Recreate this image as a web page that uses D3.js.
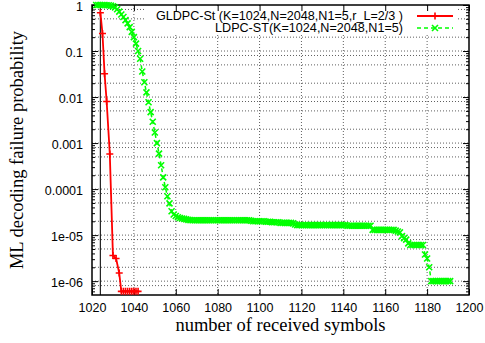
<!DOCTYPE html>
<html lang="en">
<head>
<meta charset="utf-8">
<title>ML decoding failure probability</title>
<script src="https://cdn.jsdelivr.net/npm/d3@7"></script>
<style>
  body { margin: 0; background: #fff; }
  .tick text { font-family: "Liberation Sans", Arial, sans-serif; }
</style>
</head>
<body>
<script>

// x axis ticks
var xTicks = [1020, 1040, 1060, 1080, 1100, 1120, 1140, 1160, 1180, 1200];
// y axis ticks (log)
var yTicks = [1, 0.1, 0.01, 0.001, 0.0001, 1e-5, 1e-6];
var yTickLabels = ["1", "0.1", "0.01", "0.001", "0.0001", "1e-05", "1e-06"];

var seriesNames = ["GLDPC-St (K=1024,N=2048,N1=5,r_L=2/3 )", "LDPC-ST(K=1024,N=2048,N1=5)"];

// GLDPC-St
var redX = [1024, 1025, 1026, 1027, 1028.5, 1030, 1031.5, 1033, 1034, 1035, 1036, 1037, 1038, 1039, 1040, 1041, 1042];
var redY = [0.68, 0.24, 0.032, 0.008, 5.8e-4, 3.6e-6, 3.1e-6, 1.5e-6, 6e-7, 6e-7, 6e-7, 6e-7, 6e-7, 6e-7, 6e-7, 6e-7, 6e-7];

// LDPC-ST, one value per received symbol count starting at greenStart (10 per row)
var greenStart = 1022;
var greenY = [
  1.0, 1.0, 1.0, 1.0, 1.0, 0.99, 0.99, 0.97, 0.94, 0.89,                             // 1022
  0.81, 0.72, 0.62, 0.55, 0.47, 0.40, 0.33, 0.26, 0.20, 0.145,                       // 1032
  0.10, 0.068, 0.036, 0.021, 0.0126, 0.0077, 0.0047, 0.0029, 0.0017, 0.0010,         // 1042
  5.9e-4, 3.3e-4, 1.8e-4, 1.1e-4, 7.0e-5, 4.9e-5, 3.3e-5, 2.8e-5, 2.6e-5, 2.45e-5,   // 1052
  2.35e-5, 2.3e-5, 2.25e-5, 2.2e-5, 2.15e-5, 2.12e-5, 2.1e-5, 2.1e-5, 2.1e-5, 2.1e-5, // 1062
  2.1e-5, 2.1e-5, 2.1e-5, 2.1e-5, 2.1e-5, 2.1e-5, 2.1e-5, 2.1e-5, 2.1e-5, 2.1e-5,   // 1072
  2.1e-5, 2.1e-5, 2.1e-5, 2.1e-5, 2.1e-5, 2.1e-5, 2.1e-5, 2.1e-5, 2.1e-5, 2.1e-5,   // 1082
  2.1e-5, 2.1e-5, 2.1e-5, 2.1e-5, 2.05e-5, 2.0e-5, 2.0e-5, 2.0e-5, 2.0e-5, 2.0e-5,  // 1092
  2.0e-5, 1.95e-5, 1.95e-5, 1.95e-5, 1.9e-5, 1.9e-5, 1.9e-5, 1.9e-5, 1.85e-5, 1.85e-5, // 1102
  1.85e-5, 1.85e-5, 1.85e-5, 1.85e-5, 1.8e-5, 1.7e-5, 1.65e-5, 1.65e-5, 1.65e-5, 1.65e-5, // 1112
  1.65e-5, 1.65e-5, 1.65e-5, 1.65e-5, 1.65e-5, 1.65e-5, 1.65e-5, 1.65e-5, 1.65e-5, 1.65e-5, // 1122
  1.65e-5, 1.65e-5, 1.65e-5, 1.65e-5, 1.65e-5, 1.65e-5, 1.65e-5, 1.65e-5, 1.65e-5, 1.65e-5, // 1132
  1.6e-5, 1.6e-5, 1.6e-5, 1.6e-5, 1.6e-5, 1.6e-5, 1.6e-5, 1.6e-5, 1.6e-5, 1.6e-5,   // 1142
  1.6e-5, 1.6e-5, 1.3e-5, 1.3e-5, 1.3e-5, 1.3e-5, 1.3e-5, 1.3e-5, 1.3e-5, 1.3e-5,   // 1152
  1.3e-5, 1.3e-5, 1.3e-5, 1.25e-5, 1.2e-5, 1.15e-5, 9.5e-6, 8.6e-6, 8.0e-6, 6.6e-6, // 1162
  6.1e-6, 6.1e-6, 6.1e-6, 6.1e-6, 6.1e-6, 6.1e-6, 6.1e-6, 3.8e-6, 3.1e-6, 2.0e-6,   // 1172
  1.0e-6, 1.0e-6, 1.0e-6, 1.0e-6, 1.0e-6, 1.0e-6, 1.0e-6, 1.0e-6, 1.0e-6, 1.0e-6    // 1182
];

var kLine = 1024;

var width = 485, height = 343;
var pLeft = 92, pRight = 469, pTop = 5, pBottom = 295;

var svg = d3.select("body").append("svg")
    .attr("width", width)
    .attr("height", height);

var x = d3.scaleLinear().domain([1020, 1200]).range([pLeft, pRight]);
var y = d3.scaleLog().domain([5e-7, 1]).range([pBottom, pTop]);

// minor log ticks
var minorY = [];
for (var e = -7; e <= 0; e++) {
  for (var m = 2; m <= 9; m++) {
    var v = m * Math.pow(10, e);
    if (v > 5e-7 && v < 1) minorY.push(v);
  }
}
var gridY = yTicks.concat(minorY.filter(function(v) {
  var m = Math.round(v / Math.pow(10, Math.floor(Math.log10(v) + 1e-9)));
  return m == 2 || m == 5 || m == 8;
}));

// grid
var grid = svg.append("g")
    .attr("stroke", "#222")
    .attr("stroke-width", 0.9)
    .attr("stroke-dasharray", "1,2")
    .attr("opacity", 0.8);

grid.selectAll(".gx").data(xTicks.slice(1, -1)).enter()
  .append("line")
    .attr("x1", function(d) { return x(d); })
    .attr("x2", function(d) { return x(d); })
    .attr("y1", pTop)
    .attr("y2", pBottom);

grid.selectAll(".gy").data(gridY.filter(function(d) { return d < 1; })).enter()
  .append("line")
    .attr("x1", pLeft)
    .attr("x2", pRight)
    .attr("y1", function(d) { return y(d); })
    .attr("y2", function(d) { return y(d); });

// legend background hides the grid
svg.append("rect")
    .attr("x", 145).attr("y", pTop + 1)
    .attr("width", 313).attr("height", 27)
    .attr("fill", "#fff");

// vertical line at K
svg.append("line")
    .attr("x1", x(kLine)).attr("x2", x(kLine))
    .attr("y1", pTop).attr("y2", pBottom)
    .attr("stroke", "#222")
    .attr("stroke-width", 1.2);

// axes with inward ticks
svg.append("g")
    .attr("transform", "translate(0," + pBottom + ")")
    .call(d3.axisBottom(x).tickValues(xTicks).tickSize(-6).tickPadding(8).tickFormat(d3.format("d")))
    .call(function(g) { g.select(".domain").remove(); })
    .selectAll("text").attr("font-size", 12.5).attr("fill", "#000");

svg.append("g")
    .attr("transform", "translate(0," + pTop + ")")
    .call(d3.axisTop(x).tickValues(xTicks).tickSize(-6).tickFormat(""))
    .call(function(g) { g.select(".domain").remove(); });

svg.append("g")
    .attr("transform", "translate(" + pLeft + ",0)")
    .call(d3.axisLeft(y).tickValues(yTicks).tickSize(-6).tickPadding(9)
      .tickFormat(function(d, i) { return yTickLabels[i]; }))
    .call(function(g) { g.select(".domain").remove(); })
    .selectAll("text").attr("font-size", 12.5).attr("fill", "#000").attr("y", 1.2);

svg.append("g")
    .attr("transform", "translate(" + pLeft + ",0)")
    .call(d3.axisLeft(y).tickValues(minorY).tickSize(-3).tickFormat(""))
    .call(function(g) { g.select(".domain").remove(); });

svg.append("g")
    .attr("transform", "translate(" + pRight + ",0)")
    .call(d3.axisRight(y).tickValues(yTicks).tickSize(-6).tickFormat(""))
    .call(function(g) { g.select(".domain").remove(); });

svg.append("g")
    .attr("transform", "translate(" + pRight + ",0)")
    .call(d3.axisRight(y).tickValues(minorY).tickSize(-3).tickFormat(""))
    .call(function(g) { g.select(".domain").remove(); });

svg.selectAll(".tick line").attr("stroke", "#000");

// border
svg.append("rect")
    .attr("x", pLeft).attr("y", pTop)
    .attr("width", pRight - pLeft).attr("height", pBottom - pTop)
    .attr("fill", "none")
    .attr("stroke", "#000")
    .attr("stroke-width", 1.5);

// data
var red = redX.map(function(d, i) { return [d, redY[i]]; });
var green = greenY.map(function(d, i) { return [greenStart + i, d]; });

var line = d3.line()
    .x(function(d) { return x(d[0]); })
    .y(function(d) { return y(d[1]); });

var plot = svg.append("g");

plot.append("path")
    .datum(green)
    .attr("d", line)
    .attr("fill", "none")
    .attr("stroke", "#00ff00")
    .attr("stroke-width", 1.5)
    .attr("stroke-dasharray", "4,3");

function cross(g, cx, cy, s) {
  g.append("path")
    .attr("d", "M" + (cx - s) + "," + (cy - s) + "L" + (cx + s) + "," + (cy + s) +
               "M" + (cx - s) + "," + (cy + s) + "L" + (cx + s) + "," + (cy - s));
}
function plus(g, cx, cy, s) {
  g.append("path")
    .attr("d", "M" + (cx - s) + "," + cy + "L" + (cx + s) + "," + cy +
               "M" + cx + "," + (cy - s) + "L" + cx + "," + (cy + s));
}

var gMarks = plot.append("g").attr("stroke", "#00ff00").attr("stroke-width", 1.6).attr("fill", "none");
green.forEach(function(d) { cross(gMarks, x(d[0]), y(d[1]), 3); });

plot.append("path")
    .datum(red)
    .attr("d", line)
    .attr("fill", "none")
    .attr("stroke", "#ff0000")
    .attr("stroke-width", 1.8);

var rMarks = plot.append("g").attr("stroke", "#ff0000").attr("stroke-width", 1.6).attr("fill", "none");
red.forEach(function(d) { plus(rMarks, x(d[0]), y(d[1]), 3.5); });

// legend
var legend = svg.append("g")
    .attr("font-family", "'Liberation Sans', Arial, sans-serif")
    .attr("font-size", 12.6);

var legRows = [
  {name: seriesNames[0], color: "#ff0000", dash: null, mark: plus, y: 16},
  {name: seriesNames[1], color: "#00ff00", dash: "4,3", mark: cross, y: 28}
];

legRows.forEach(function(r) {
  legend.append("text")
    .attr("x", 403).attr("y", r.y)
    .attr("dy", "0.35em")
    .attr("text-anchor", "end")
    .text(r.name);
  legend.append("line")
    .attr("x1", 417).attr("x2", 453)
    .attr("y1", r.y).attr("y2", r.y)
    .attr("stroke", r.color)
    .attr("stroke-width", r.dash ? 1.5 : 1.8)
    .attr("stroke-dasharray", r.dash);
  var mg = legend.append("g").attr("stroke", r.color).attr("stroke-width", 1.6);
  r.mark(mg, 435, r.y, r.dash ? 3 : 3.5);
});

// axis titles
svg.append("text")
    .attr("x", (pLeft + pRight) / 2)
    .attr("y", 331)
    .attr("text-anchor", "middle")
    .attr("font-family", "'Liberation Serif', 'Times New Roman', serif")
    .attr("font-size", 18.5)
    .text("number of received symbols");

svg.append("text")
    .attr("transform", "translate(23," + ((pTop + pBottom) / 2) + ") rotate(-90)")
    .attr("text-anchor", "middle")
    .attr("font-family", "'Liberation Serif', 'Times New Roman', serif")
    .attr("font-size", 18.5)
    .text("ML decoding failure probability");

</script>
</body>
</html>
